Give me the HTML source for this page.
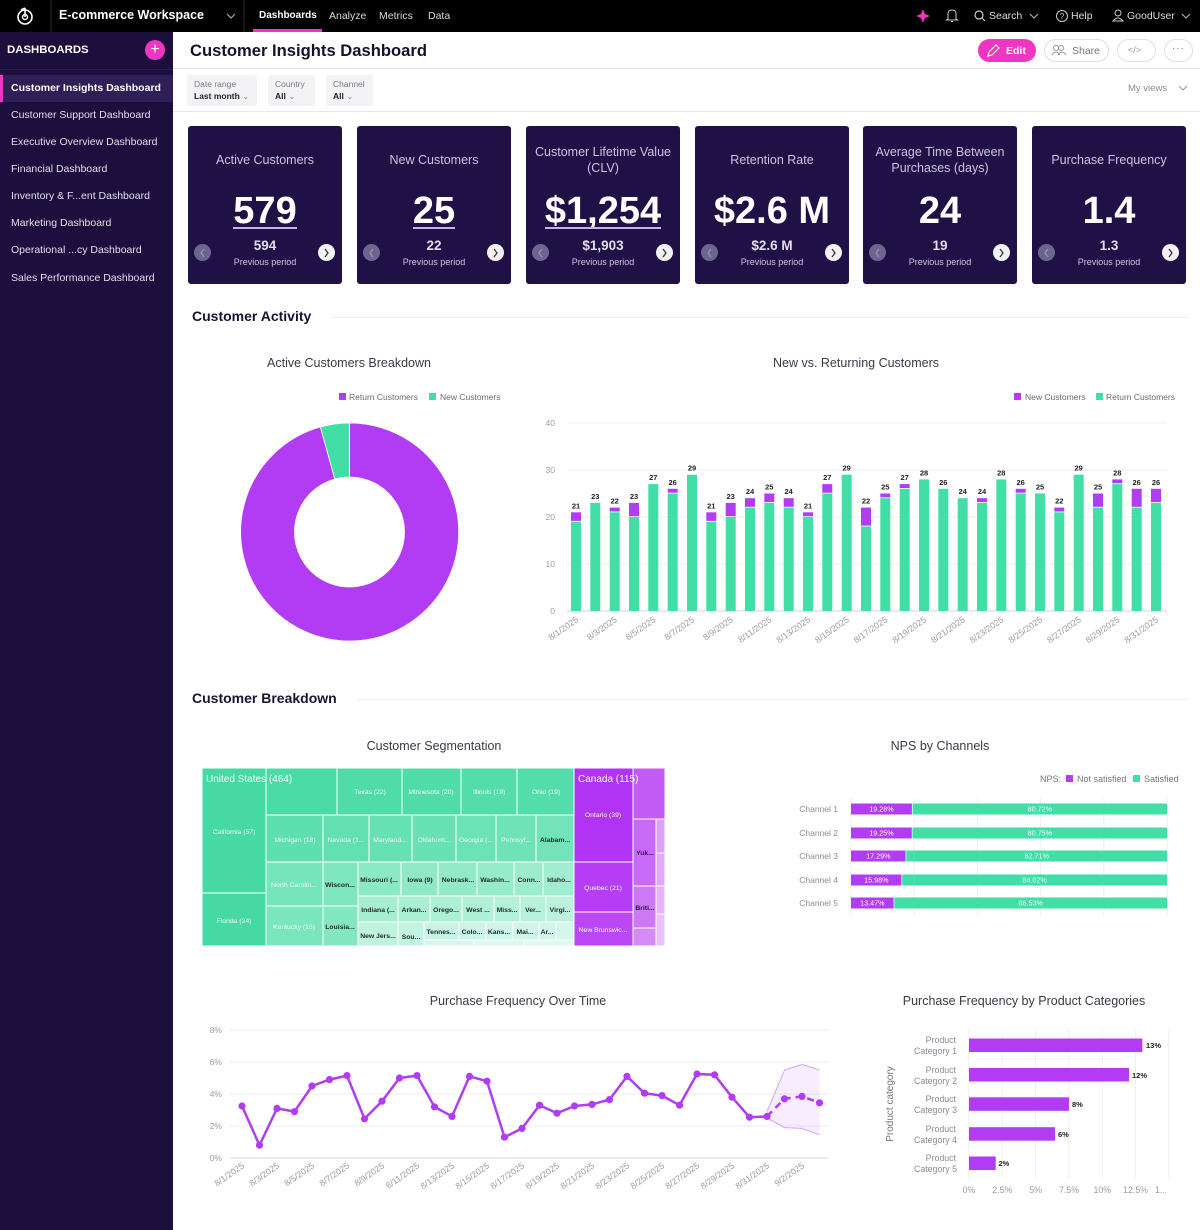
<!DOCTYPE html>
<html><head><meta charset="utf-8">
<style>
*{margin:0;padding:0;box-sizing:border-box}
body{width:1200px;height:1230px;position:relative;overflow:hidden;background:#fff;font-family:"Liberation Sans",sans-serif}
.a{position:absolute;white-space:nowrap}
#top{position:absolute;left:0;top:0;width:1200px;height:32px;background:#000}
#side{position:absolute;left:0;top:32px;width:173px;height:1198px;background:#1c0e3d}
.si{position:absolute;left:11px;font-size:10.5px;color:#e2deec;line-height:14px}
.card{position:absolute;top:126px;width:154px;height:158px;background:#1f1046;border-radius:3px}
.ct{position:absolute;left:0;width:154px;text-align:center;font-size:12.5px;color:#cbc3e2;line-height:16px}
.cv{position:absolute;left:0;width:154px;top:63px;text-align:center;font-size:38px;font-weight:bold;color:#fff;line-height:44px}
.ul{position:absolute;top:101px;height:2px;background:#c4b3ee}
.cp{position:absolute;left:0;width:154px;top:112px;text-align:center;font-size:13.5px;font-weight:bold;color:#e2ddef;line-height:16px}
.cpp{position:absolute;left:0;width:154px;top:131px;text-align:center;font-size:9px;color:#cdc7dd;line-height:11px}
.cl{position:absolute;left:6px;top:118px;width:17px;height:17px;border-radius:50%;background:#6c6590}
.cr{position:absolute;left:130px;top:118px;width:17px;height:17px;border-radius:50%;background:#f2f2f4}
.fb{position:absolute;top:75px;height:31px;background:#f3f3f6;border-radius:3px}
.fl{position:absolute;left:7px;top:4px;font-size:8.5px;color:#7a7a88}
.fv{position:absolute;left:7px;top:16px;font-size:8.5px;color:#222;font-weight:bold}
.btn{position:absolute;top:39px;height:23px;border-radius:12px;border:1px solid #dedee4;background:#fff}
</style></head><body>

<div id="top"></div>
<div id="side"></div>

<!-- top bar content -->
<svg class="a" style="left:0;top:0" width="1200" height="32">
  <circle cx="25" cy="17" r="7" fill="none" stroke="#fff" stroke-width="1.6"/>
  <path d="M25 17 L25 8 M21 10 L25 8" stroke="#fff" stroke-width="1.6" fill="none"/>
  <circle cx="25" cy="17" r="2.5" fill="none" stroke="#fff" stroke-width="1.4"/>
  <line x1="51" y1="0" x2="51" y2="32" stroke="#2a2a2a"/>
  <line x1="244" y1="0" x2="244" y2="32" stroke="#2a2a2a"/>
  <polyline points="227,14 231,18 235,14" fill="none" stroke="#aaa" stroke-width="1.2"/>
  <rect x="253" y="29" width="69" height="3" fill="#ee36c2"/>
  <path d="M923 9 L925 14 L930 16 L925 18 L923 23 L921 18 L916 16 L921 14 Z" fill="#ee36c2"/>
  <path d="M948 19 L948 14 Q948 10 952 10 Q956 10 956 14 L956 19 L957.5 20 L946.5 20 Z M951 21.5 L953 21.5" fill="none" stroke="#ccc" stroke-width="1"/>
  <circle cx="979" cy="15" r="4" fill="none" stroke="#ccc" stroke-width="1.2"/>
  <line x1="982" y1="18" x2="985" y2="21" stroke="#ccc" stroke-width="1.2"/>
  <polyline points="1030,14 1034,18 1038,14" fill="none" stroke="#aaa" stroke-width="1.2"/>
  <circle cx="1062" cy="16" r="5.5" fill="none" stroke="#ccc" stroke-width="1"/>
  <text x="1062" y="19" font-size="8" fill="#ccc" text-anchor="middle" font-family="Liberation Sans">?</text>
  <circle cx="1118" cy="13" r="3" fill="none" stroke="#ccc" stroke-width="1"/>
  <path d="M1113 21 Q1118 15 1123 21 Z" fill="none" stroke="#ccc" stroke-width="1"/>
  <polyline points="1182,14 1186,18 1190,14" fill="none" stroke="#aaa" stroke-width="1.2"/>
</svg>
<div class="a" style="left:59px;top:8px;font-size:12.5px;font-weight:bold;color:#fff">E-commerce Workspace</div>
<div class="a" style="left:259px;top:10px;font-size:10px;font-weight:bold;color:#fff">Dashboards</div>
<div class="a" style="left:329px;top:10px;font-size:10.5px;color:#d8d8d8">Analyze</div>
<div class="a" style="left:379px;top:10px;font-size:10.5px;color:#d8d8d8">Metrics</div>
<div class="a" style="left:428px;top:10px;font-size:10.5px;color:#d8d8d8">Data</div>
<div class="a" style="left:989px;top:10px;font-size:10.5px;color:#ddd">Search</div>
<div class="a" style="left:1071px;top:10px;font-size:10.5px;color:#ddd">Help</div>
<div class="a" style="left:1127px;top:10px;font-size:10.5px;color:#ddd">GoodUser</div>

<!-- sidebar -->
<div class="a" style="left:7px;top:44px;font-size:11.4px;font-weight:bold;color:#fff">DASHBOARDS</div>
<div class="a" style="left:145px;top:40px;width:20px;height:20px;border-radius:50%;background:#ee36c2;color:#fff;font-size:16px;line-height:19px;text-align:center">+</div>
<div class="a" style="left:0;top:69px;width:173px;height:1px;background:#2c1d52"></div>
<div class="a" style="left:0;top:75px;width:173px;height:27px;background:#2f1f57"></div>
<div class="a" style="left:0;top:75px;width:3px;height:27px;background:#ee36c2"></div>
<div class="si" style="top:81px;font-weight:bold;color:#fff">Customer Insights Dashboard</div>
<div class="si" style="top:108px">Customer Support Dashboard</div>
<div class="si" style="top:135px">Executive Overview Dashboard</div>
<div class="si" style="top:162px">Financial Dashboard</div>
<div class="si" style="top:189px">Inventory &amp; F...ent Dashboard</div>
<div class="si" style="top:216px">Marketing Dashboard</div>
<div class="si" style="top:243px">Operational ...cy Dashboard</div>
<div class="si" style="top:271px">Sales Performance Dashboard</div>

<!-- header -->
<div class="a" style="left:190px;top:41px;font-size:16.6px;font-weight:bold;color:#16102d">Customer Insights Dashboard</div>
<div class="a" style="left:173px;top:68px;width:1027px;height:1px;background:#e6e6ea"></div>
<div class="btn" style="left:978px;width:58px;background:#ee36c2;border-color:#ee36c2"></div>
<svg class="a" style="left:986px;top:44px" width="14" height="14"><path d="M2 12 L3 8 L10 1 L13 4 L6 11 Z" fill="none" stroke="#fff" stroke-width="1.2"/></svg>
<div class="a" style="left:1006px;top:45px;font-size:10.5px;font-weight:bold;color:#fff">Edit</div>
<div class="btn" style="left:1044px;width:65px"></div>
<svg class="a" style="left:1051px;top:44px" width="16" height="14"><circle cx="5" cy="4" r="2.5" fill="none" stroke="#999"/><circle cx="10" cy="4" r="2.5" fill="none" stroke="#999"/><path d="M1 11 Q5 5 9 11 M7 11 Q11 5 15 11" fill="none" stroke="#999"/></svg>
<div class="a" style="left:1072px;top:45px;font-size:10.5px;color:#777">Share</div>
<div class="btn" style="left:1117px;width:39px"></div>
<div class="a" style="left:1128px;top:45px;font-size:9px;color:#999">&lt;/&gt;</div>
<div class="btn" style="left:1164px;width:29px"></div>
<div class="a" style="left:1172px;top:43px;font-size:10px;color:#777;letter-spacing:1px">···</div>

<!-- filters -->
<div class="fb" style="left:187px;width:70px"><div class="fl">Date range</div><div class="fv">Last month <span style="font-weight:normal;color:#888">⌄</span></div></div>
<div class="fb" style="left:268px;width:47px"><div class="fl">Country</div><div class="fv">All <span style="font-weight:normal;color:#888">⌄</span></div></div>
<div class="fb" style="left:326px;width:47px"><div class="fl">Channel</div><div class="fv">All <span style="font-weight:normal;color:#888">⌄</span></div></div>
<div class="a" style="left:1128px;top:83px;font-size:9.5px;color:#8a8a96">My views</div>
<svg class="a" style="left:1178px;top:84px" width="10" height="8"><polyline points="1,2 5,6 9,2" fill="none" stroke="#999" stroke-width="1.1"/></svg>
<div class="a" style="left:173px;top:111px;width:1027px;height:1px;background:#e8e8ec"></div>

<!-- KPI cards -->
<div class="card" style="left:188px"><div class="ct" style="top:26px">Active Customers</div><div class="cv">579</div><div class="ul" style="left:45px;width:64px"></div><div class="cp">594</div><div class="cpp">Previous period</div><div class="cl"></div><div class="cr"></div></div>
<div class="card" style="left:357px"><div class="ct" style="top:26px">New Customers</div><div class="cv">25</div><div class="ul" style="left:56px;width:42px"></div><div class="cp">22</div><div class="cpp">Previous period</div><div class="cl"></div><div class="cr"></div></div>
<div class="card" style="left:526px"><div class="ct" style="top:18px">Customer Lifetime Value<br>(CLV)</div><div class="cv">$1,254</div><div class="ul" style="left:19px;width:116px"></div><div class="cp">$1,903</div><div class="cpp">Previous period</div><div class="cl"></div><div class="cr"></div></div>
<div class="card" style="left:695px"><div class="ct" style="top:26px">Retention Rate</div><div class="cv">$2.6 M</div><div class="cp">$2.6 M</div><div class="cpp">Previous period</div><div class="cl"></div><div class="cr"></div></div>
<div class="card" style="left:863px"><div class="ct" style="top:18px">Average Time Between<br>Purchases (days)</div><div class="cv">24</div><div class="cp">19</div><div class="cpp">Previous period</div><div class="cl"></div><div class="cr"></div></div>
<div class="card" style="left:1032px"><div class="ct" style="top:26px">Purchase Frequency</div><div class="cv">1.4</div><div class="cp">1.3</div><div class="cpp">Previous period</div><div class="cl"></div><div class="cr"></div></div>
<svg class="a" style="left:0;top:0" width="1200" height="290">
  <g fill="none" stroke-width="1.3">
    <polyline points="204,249 201,253 204,257" stroke="#9a94b4"/><polyline points="325,249 328,253 325,257" stroke="#333"/>
    <polyline points="373,249 370,253 373,257" stroke="#9a94b4"/><polyline points="494,249 497,253 494,257" stroke="#333"/>
    <polyline points="542,249 539,253 542,257" stroke="#9a94b4"/><polyline points="663,249 666,253 663,257" stroke="#333"/>
    <polyline points="711,249 708,253 711,257" stroke="#9a94b4"/><polyline points="832,249 835,253 832,257" stroke="#333"/>
    <polyline points="879,249 876,253 879,257" stroke="#9a94b4"/><polyline points="1000,249 1003,253 1000,257" stroke="#333"/>
    <polyline points="1048,249 1045,253 1048,257" stroke="#9a94b4"/><polyline points="1169,249 1172,253 1169,257" stroke="#333"/>
  </g>
</svg>

<!-- sections -->
<div class="a" style="left:192px;top:308px;font-size:14px;font-weight:bold;color:#1a1233">Customer Activity</div>
<div class="a" style="left:332px;top:317px;width:856px;height:1px;background:#ededf0"></div>
<div class="a" style="left:192px;top:690px;font-size:14px;font-weight:bold;color:#1a1233">Customer Breakdown</div>
<div class="a" style="left:357px;top:699px;width:831px;height:1px;background:#ededf0"></div>

<svg class="a" style="left:0;top:0" width="1200" height="1230" font-family="Liberation Sans">
  <!-- chart titles -->
  <g font-size="12.5" fill="#3a3a48" text-anchor="middle">
    <text x="349" y="367">Active Customers Breakdown</text>
    <text x="856" y="367">New vs. Returning Customers</text>
    <text x="434" y="750">Customer Segmentation</text>
    <text x="940" y="750">NPS by Channels</text>
    <text x="518" y="1005">Purchase Frequency Over Time</text>
    <text x="1024" y="1005">Purchase Frequency by Product Categories</text>
  </g>

  <!-- donut -->
  <rect x="339" y="393" width="7" height="7" fill="#b23cf4"/>
  <text x="349" y="400" font-size="8.5" fill="#6a6a78">Return Customers</text>
  <rect x="429" y="393" width="7" height="7" fill="#41dea6"/>
  <text x="440" y="400" font-size="8.5" fill="#6a6a78">New Customers</text>
  <path d="M349.5 423 A109 109 0 1 1 320.4 427 L334.8 479 A55 55 0 1 0 349.5 477 Z" fill="#b23cf4" stroke="#fff" stroke-width="0.8"/>
  <path d="M349.5 423 A109 109 0 0 0 320.4 427 L334.8 479 A55 55 0 0 1 349.5 477 Z" fill="#41dea6" stroke="#fff" stroke-width="0.8"/>

  <!-- bar chart -->
  <rect x="1014" y="393" width="7" height="7" fill="#b23cf4"/>
  <text x="1025" y="400" font-size="8.5" fill="#6a6a78">New Customers</text>
  <rect x="1096" y="393" width="7" height="7" fill="#41dea6"/>
  <text x="1106" y="400" font-size="8.5" fill="#6a6a78">Return Customers</text>
  <g stroke="#ededf1" stroke-width="1">
    <line x1="567" y1="423" x2="1167" y2="423"/><line x1="567" y1="470" x2="1167" y2="470"/>
    <line x1="567" y1="517" x2="1167" y2="517"/><line x1="567" y1="564" x2="1167" y2="564"/>
  </g>
  <line x1="567" y1="611" x2="1167" y2="611" stroke="#d6d6dc"/>
  <g font-size="8.5" fill="#9a9aa6" text-anchor="end">
    <text x="555" y="426">40</text><text x="555" y="473">30</text><text x="555" y="520">20</text><text x="555" y="567">10</text><text x="555" y="614">0</text>
  </g>
  <g fill="#41dea6">
    <rect x="571" y="521.7" width="10" height="89.3"/><rect x="590.3" y="502.9" width="10" height="108.1"/>
    <rect x="609.7" y="512.3" width="10" height="98.7"/><rect x="629" y="517" width="10" height="94"/>
    <rect x="648.3" y="484.1" width="10" height="126.9"/><rect x="667.7" y="493.5" width="10" height="117.5"/>
    <rect x="687" y="474.7" width="10" height="136.3"/><rect x="706.3" y="521.7" width="10" height="89.3"/>
    <rect x="725.7" y="517" width="10" height="94"/><rect x="745" y="507.6" width="10" height="103.4"/>
    <rect x="764.3" y="502.9" width="10" height="108.1"/><rect x="783.7" y="507.6" width="10" height="103.4"/>
    <rect x="803" y="517" width="10" height="94"/><rect x="822.3" y="493.5" width="10" height="117.5"/>
    <rect x="841.7" y="474.7" width="10" height="136.3"/><rect x="861" y="526.4" width="10" height="84.6"/>
    <rect x="880.3" y="498.2" width="10" height="112.8"/><rect x="899.7" y="488.8" width="10" height="122.2"/>
    <rect x="919" y="479.4" width="10" height="131.6"/><rect x="938.3" y="488.8" width="10" height="122.2"/>
    <rect x="957.7" y="498.2" width="10" height="112.8"/><rect x="977" y="502.9" width="10" height="108.1"/>
    <rect x="996.3" y="479.4" width="10" height="131.6"/><rect x="1015.7" y="493.5" width="10" height="117.5"/>
    <rect x="1035" y="493.5" width="10" height="117.5"/><rect x="1054.3" y="512.3" width="10" height="98.7"/>
    <rect x="1073.7" y="474.7" width="10" height="136.3"/><rect x="1093" y="507.6" width="10" height="103.4"/>
    <rect x="1112.3" y="484.1" width="10" height="126.9"/><rect x="1131.7" y="507.6" width="10" height="103.4"/>
    <rect x="1151" y="502.9" width="10" height="108.1"/>
  </g>
  <g fill="#b23cf4">
    <rect x="571" y="512.3" width="10" height="8.6"/>
    <rect x="609.7" y="507.6" width="10" height="3.9"/>
    <rect x="629" y="502.9" width="10" height="13.3"/>
    <rect x="667.7" y="488.8" width="10" height="3.9"/>
    <rect x="706.3" y="512.3" width="10" height="8.6"/>
    <rect x="725.7" y="502.9" width="10" height="13.3"/>
    <rect x="745" y="498.2" width="10" height="8.6"/>
    <rect x="764.3" y="493.5" width="10" height="8.6"/>
    <rect x="783.7" y="498.2" width="10" height="8.6"/>
    <rect x="803" y="512.3" width="10" height="3.9"/>
    <rect x="822.3" y="484.1" width="10" height="8.6"/>
    <rect x="861" y="507.6" width="10" height="18"/>
    <rect x="880.3" y="493.5" width="10" height="3.9"/>
    <rect x="899.7" y="484.1" width="10" height="3.9"/>
    <rect x="977" y="498.2" width="10" height="3.9"/>
    <rect x="1015.7" y="488.8" width="10" height="3.9"/>
    <rect x="1054.3" y="507.6" width="10" height="3.9"/>
    <rect x="1093" y="493.5" width="10" height="13.3"/>
    <rect x="1112.3" y="479.4" width="10" height="3.9"/>
    <rect x="1131.7" y="488.8" width="10" height="18"/>
    <rect x="1151" y="488.8" width="10" height="13.3"/>
  </g>
  <g font-size="7.5" font-weight="bold" fill="#222" text-anchor="middle">
    <text x="576" y="508.3">21</text><text x="595.3" y="498.9">23</text><text x="614.7" y="503.6">22</text>
    <text x="634" y="498.9">23</text><text x="653.3" y="480.1">27</text><text x="672.7" y="484.8">26</text>
    <text x="692" y="470.7">29</text><text x="711.3" y="508.3">21</text><text x="730.7" y="498.9">23</text>
    <text x="750" y="494.2">24</text><text x="769.3" y="489.5">25</text><text x="788.7" y="494.2">24</text>
    <text x="808" y="508.3">21</text><text x="827.3" y="480.1">27</text><text x="846.7" y="470.7">29</text>
    <text x="866" y="503.6">22</text><text x="885.3" y="489.5">25</text><text x="904.7" y="480.1">27</text>
    <text x="924" y="475.4">28</text><text x="943.3" y="484.8">26</text><text x="962.7" y="494.2">24</text>
    <text x="982" y="494.2">24</text><text x="1001.3" y="475.4">28</text><text x="1020.7" y="484.8">26</text>
    <text x="1040" y="489.5">25</text><text x="1059.3" y="503.6">22</text><text x="1078.7" y="470.7">29</text>
    <text x="1098" y="489.5">25</text><text x="1117.3" y="475.4">28</text><text x="1136.7" y="484.8">26</text>
    <text x="1156" y="484.8">26</text>
  </g>
  <g font-size="8.8" fill="#9a9aa6" text-anchor="end">
    <text transform="translate(579,621) rotate(-35)">8/1/2025</text>
    <text transform="translate(617.7,621) rotate(-35)">8/3/2025</text>
    <text transform="translate(656.3,621) rotate(-35)">8/5/2025</text>
    <text transform="translate(695,621) rotate(-35)">8/7/2025</text>
    <text transform="translate(733.7,621) rotate(-35)">8/9/2025</text>
    <text transform="translate(772.3,621) rotate(-35)">8/11/2025</text>
    <text transform="translate(811,621) rotate(-35)">8/13/2025</text>
    <text transform="translate(849.7,621) rotate(-35)">8/15/2025</text>
    <text transform="translate(888.3,621) rotate(-35)">8/17/2025</text>
    <text transform="translate(927,621) rotate(-35)">8/19/2025</text>
    <text transform="translate(965.7,621) rotate(-35)">8/21/2025</text>
    <text transform="translate(1004.3,621) rotate(-35)">8/23/2025</text>
    <text transform="translate(1043,621) rotate(-35)">8/25/2025</text>
    <text transform="translate(1081.7,621) rotate(-35)">8/27/2025</text>
    <text transform="translate(1120.3,621) rotate(-35)">8/29/2025</text>
    <text transform="translate(1159,621) rotate(-35)">8/31/2025</text>
  </g>

  <!-- treemap -->
  <g stroke="#fff" stroke-width="1">
    <rect x="202" y="768" width="64" height="125" fill="#47d9a4"/>
    <rect x="202" y="893" width="64" height="53" fill="#47d9a4"/>
    <rect x="266" y="768" width="71" height="47" fill="#4bdba7"/>
    <rect x="337" y="768" width="65" height="47" fill="#50dcaa"/>
    <rect x="402" y="768" width="59" height="47" fill="#50dcaa"/>
    <rect x="461" y="768" width="56" height="47" fill="#53ddac"/>
    <rect x="517" y="768" width="57" height="47" fill="#53ddac"/>
    <rect x="266" y="815" width="57" height="47" fill="#5ddfb1"/>
    <rect x="323" y="815" width="46" height="47" fill="#62e0b3"/>
    <rect x="369" y="815" width="43" height="47" fill="#66e1b5"/>
    <rect x="412" y="815" width="44" height="47" fill="#68e1b6"/>
    <rect x="456" y="815" width="40" height="47" fill="#6be2b8"/>
    <rect x="496" y="815" width="40" height="47" fill="#6ee3b9"/>
    <rect x="536" y="815" width="38" height="47" fill="#72e3bb"/>
    <rect x="266" y="862" width="57" height="44" fill="#76e4bd"/>
    <rect x="266" y="906" width="57" height="40" fill="#7ae5bf"/>
    <rect x="323" y="862" width="35" height="44" fill="#7fe6c2"/>
    <rect x="323" y="906" width="35" height="40" fill="#84e7c4"/>
    <rect x="358" y="862" width="43" height="34" fill="#8ae9c7"/>
    <rect x="401" y="862" width="37" height="34" fill="#8fe9c9"/>
    <rect x="438" y="862" width="39" height="34" fill="#93eacb"/>
    <rect x="477" y="862" width="37" height="34" fill="#97ebcd"/>
    <rect x="514" y="862" width="29" height="34" fill="#9cecd0"/>
    <rect x="543" y="862" width="31" height="34" fill="#a0edd2"/>
    <rect x="358" y="896" width="40" height="26" fill="#a5eed4"/>
    <rect x="398" y="896" width="32" height="26" fill="#a9efd6"/>
    <rect x="430" y="896" width="32" height="26" fill="#adf0d8"/>
    <rect x="462" y="896" width="32" height="26" fill="#b0f0d9"/>
    <rect x="494" y="896" width="26" height="26" fill="#b4f1db"/>
    <rect x="520" y="896" width="26" height="26" fill="#b7f2dd"/>
    <rect x="546" y="896" width="28" height="26" fill="#baf2de"/>
    <rect x="358" y="922" width="40" height="24" fill="#bef3e0"/>
    <rect x="398" y="922" width="26" height="24" fill="#c2f4e2"/>
    <rect x="424" y="922" width="35" height="18" fill="#c6f5e4"/>
    <rect x="459" y="922" width="27" height="18" fill="#c9f5e5"/>
    <rect x="486" y="922" width="27" height="18" fill="#ccf6e7"/>
    <rect x="513" y="922" width="26" height="18" fill="#cff6e8"/>
    <rect x="539" y="922" width="17" height="18" fill="#d2f7ea"/>
    <rect x="556" y="922" width="18" height="18" fill="#d6f8ec"/>
    <rect x="424" y="940" width="50" height="6" fill="#d9f8ed"/>
    <rect x="474" y="940" width="50" height="6" fill="#dcf9ef"/>
    <rect x="524" y="940" width="50" height="6" fill="#e0faf1"/>
    <rect x="574" y="768" width="59" height="94" fill="#b133f5"/>
    <rect x="574" y="862" width="59" height="50" fill="#b63cf5"/>
    <rect x="574" y="912" width="59" height="34" fill="#bb47f5"/>
    <rect x="633" y="768" width="32" height="51" fill="#c35bf6"/>
    <rect x="633" y="819" width="23" height="67" fill="#c86af7"/>
    <rect x="633" y="886" width="23" height="42" fill="#cd78f7"/>
    <rect x="633" y="928" width="23" height="18" fill="#d48bf8"/>
    <rect x="656" y="819" width="9" height="34" fill="#dca2f9"/>
    <rect x="656" y="853" width="9" height="33" fill="#dfaaf9"/>
    <rect x="656" y="886" width="9" height="28" fill="#e3b5fa"/>
    <rect x="656" y="914" width="9" height="32" fill="#e8c3fb"/>
  </g>
  <text x="206" y="782" font-size="10" fill="#fff">United States (464)</text>
  <text x="578" y="782" font-size="10" fill="#fff">Canada (115)</text>
  <g font-size="6.8" text-anchor="middle" fill="#f2fffa">
    <text x="234" y="834">California (57)</text>
    <text x="234" y="923">Florida (24)</text>
    <text x="370" y="794">Texas (22)</text>
    <text x="431" y="794">Minnesota (20)</text>
    <text x="489" y="794">Illinois (19)</text>
    <text x="546" y="794">Ohio (19)</text>
    <text x="295" y="842">Michigan (18)</text>
    <text x="346" y="842">Nevada (1...</text>
    <text x="390" y="842">Maryland...</text>
    <text x="434" y="842">Oklahom...</text>
    <text x="476" y="842">Georgia (...</text>
    <text x="516" y="842">Pennsyl...</text>
    <text x="294" y="887">North Carolin...</text>
    <text x="294" y="929">Kentucky (16)</text>
    <text x="603" y="817">Ontario (39)</text>
    <text x="603" y="890">Quebec (21)</text>
    <text x="603" y="932">New Brunswic...</text>
  </g>
  <g font-size="6.8" text-anchor="middle" fill="#1c2a26" font-weight="bold">
    <text x="555" y="842">Alabam...</text>
    <text x="340" y="887">Wiscon...</text>
    <text x="340" y="929">Louisia...</text>
    <text x="379" y="882">Missouri (...</text>
    <text x="420" y="882">Iowa (9)</text>
    <text x="458" y="882">Nebrask...</text>
    <text x="495" y="882">Washin...</text>
    <text x="529" y="882">Conn...</text>
    <text x="559" y="882">Idaho...</text>
    <text x="378" y="912">Indiana (...</text>
    <text x="414" y="912">Arkan...</text>
    <text x="446" y="912">Orego...</text>
    <text x="478" y="912">West ...</text>
    <text x="507" y="912">Miss...</text>
    <text x="533" y="912">Ver...</text>
    <text x="560" y="912">Virgi...</text>
    <text x="378" y="938">New Jers...</text>
    <text x="411" y="939">Sou...</text>
    <text x="441" y="934">Tennes...</text>
    <text x="472" y="934">Colo...</text>
    <text x="499" y="934">Kans...</text>
    <text x="525" y="934">Mai...</text>
    <text x="547" y="934">Ar...</text>
    <text x="645" y="855" fill="#2a1040">Yuk...</text>
    <text x="645" y="910" fill="#2a1040">Briti...</text>
  </g>

  <!-- NPS -->
  <text x="1040" y="782" font-size="9" fill="#777">NPS:</text>
  <rect x="1066" y="775" width="7" height="7" fill="#b23cf4"/>
  <text x="1077" y="782" font-size="9" fill="#777">Not satisfied</text>
  <rect x="1133" y="775" width="7" height="7" fill="#41dea6"/>
  <text x="1144" y="782" font-size="9" fill="#777">Satisfied</text>
  <g stroke="#eeeef1">
    <line x1="851" y1="798" x2="851" y2="916"/><line x1="914.2" y1="798" x2="914.2" y2="916"/>
    <line x1="977.4" y1="798" x2="977.4" y2="916"/><line x1="1040.6" y1="798" x2="1040.6" y2="916"/>
    <line x1="1103.8" y1="798" x2="1103.8" y2="916"/><line x1="1167" y1="798" x2="1167" y2="916"/>
  </g>
  <g font-size="8.5" fill="#8a8a96" text-anchor="end">
    <text x="838" y="812">Channel 1</text><text x="838" y="836">Channel 2</text><text x="838" y="859">Channel 3</text>
    <text x="838" y="883">Channel 4</text><text x="838" y="906">Channel 5</text>
  </g>
  <g fill="#b23cf4">
    <rect x="851" y="803.5" width="60.9" height="11"/><rect x="851" y="827.5" width="60.8" height="11"/>
    <rect x="851" y="850.5" width="54.6" height="11"/><rect x="851" y="874.5" width="50.5" height="11"/>
    <rect x="851" y="897.5" width="42.6" height="11"/>
  </g>
  <g fill="#41dea6">
    <rect x="912.6" y="803.5" width="254.4" height="11"/><rect x="912.5" y="827.5" width="254.5" height="11"/>
    <rect x="906.3" y="850.5" width="260.7" height="11"/><rect x="902.2" y="874.5" width="264.8" height="11"/>
    <rect x="894.3" y="897.5" width="272.7" height="11"/>
  </g>
  <g font-size="7.2" fill="#fff" text-anchor="middle">
    <text x="881.5" y="811.5">19.28%</text><text x="881.4" y="835.5">19.25%</text><text x="878.3" y="858.5">17.29%</text>
    <text x="876.3" y="882.5">15.98%</text><text x="872.3" y="905.5">13.47%</text>
    <text x="1039.8" y="811.5" fill="#f0fff8">80.72%</text><text x="1039.8" y="835.5" fill="#f0fff8">80.75%</text>
    <text x="1036.7" y="858.5" fill="#f0fff8">82.71%</text><text x="1034.6" y="882.5" fill="#f0fff8">84.02%</text>
    <text x="1030.7" y="905.5" fill="#f0fff8">86.53%</text>
  </g>

  <!-- line chart -->
  <g stroke="#ededf1">
    <line x1="230" y1="1030" x2="828" y2="1030"/><line x1="230" y1="1062" x2="828" y2="1062"/>
    <line x1="230" y1="1094" x2="828" y2="1094"/><line x1="230" y1="1126" x2="828" y2="1126"/>
  </g>
  <line x1="230" y1="1158" x2="828" y2="1158" stroke="#d6d6dc"/>
  <g font-size="8.5" fill="#9a9aa6" text-anchor="end">
    <text x="222" y="1033">8%</text><text x="222" y="1065">6%</text><text x="222" y="1097">4%</text>
    <text x="222" y="1129">2%</text><text x="222" y="1161">0%</text>
  </g>
  <polygon points="767,1111.6 784.5,1070 802,1064.4 819.5,1070 819.5,1134.8 802,1128.4 784.5,1127.6 767,1118" fill="#b23cf4" fill-opacity="0.09"/>
  <polyline points="767,1111.6 784.5,1070 802,1064.4 819.5,1070" fill="none" stroke="#d7a4f8" stroke-width="1"/>
  <polyline points="767,1118 784.5,1127.6 802,1128.4 819.5,1134.8" fill="none" stroke="#d7a4f8" stroke-width="1"/>
  <polyline points="242,1106 259.5,1145.2 277,1108.4 294.5,1111.6 312,1086 329.5,1079.6 347,1075.6 364.5,1118.8 382,1101.2 399.5,1078 417,1075.6 434.5,1106.8 452,1116.4 469.5,1076.4 487,1081.2 504.5,1137.2 522,1128.4 539.5,1105.2 557,1113.2 574.5,1106 592,1104.4 609.5,1099.6 627,1076.4 644.5,1093.2 662,1095.6 679.5,1105.2 697,1074 714.5,1074.8 732,1097.2 749.5,1117.2 767,1116.4" fill="none" stroke="#b03ef0" stroke-width="2.5" stroke-linejoin="round"/>
  <polyline points="767,1116.4 784.5,1098.8 802,1096.4 819.5,1102.8" fill="none" stroke="#b03ef0" stroke-width="2.5" stroke-dasharray="7,5"/>
  <g fill="#b23cf4">
    <circle cx="242" cy="1106" r="3.6"/><circle cx="259.5" cy="1145.2" r="3.6"/><circle cx="277" cy="1108.4" r="3.6"/>
    <circle cx="294.5" cy="1111.6" r="3.6"/><circle cx="312" cy="1086" r="3.6"/><circle cx="329.5" cy="1079.6" r="3.6"/>
    <circle cx="347" cy="1075.6" r="3.6"/><circle cx="364.5" cy="1118.8" r="3.6"/><circle cx="382" cy="1101.2" r="3.6"/>
    <circle cx="399.5" cy="1078" r="3.6"/><circle cx="417" cy="1075.6" r="3.6"/><circle cx="434.5" cy="1106.8" r="3.6"/>
    <circle cx="452" cy="1116.4" r="3.6"/><circle cx="469.5" cy="1076.4" r="3.6"/><circle cx="487" cy="1081.2" r="3.6"/>
    <circle cx="504.5" cy="1137.2" r="3.6"/><circle cx="522" cy="1128.4" r="3.6"/><circle cx="539.5" cy="1105.2" r="3.6"/>
    <circle cx="557" cy="1113.2" r="3.6"/><circle cx="574.5" cy="1106" r="3.6"/><circle cx="592" cy="1104.4" r="3.6"/>
    <circle cx="609.5" cy="1099.6" r="3.6"/><circle cx="627" cy="1076.4" r="3.6"/><circle cx="644.5" cy="1093.2" r="3.6"/>
    <circle cx="662" cy="1095.6" r="3.6"/><circle cx="679.5" cy="1105.2" r="3.6"/><circle cx="697" cy="1074" r="3.6"/>
    <circle cx="714.5" cy="1074.8" r="3.6"/><circle cx="732" cy="1097.2" r="3.6"/><circle cx="749.5" cy="1117.2" r="3.6"/>
    <circle cx="767" cy="1116.4" r="3.6"/><circle cx="784.5" cy="1098.8" r="3.6"/><circle cx="802" cy="1096.4" r="3.6"/>
    <circle cx="819.5" cy="1102.8" r="3.6"/>
  </g>
  <g font-size="8.8" fill="#9a9aa6" text-anchor="end">
    <text transform="translate(245,1167) rotate(-35)">8/1/2025</text>
    <text transform="translate(280,1167) rotate(-35)">8/3/2025</text>
    <text transform="translate(315,1167) rotate(-35)">8/5/2025</text>
    <text transform="translate(350,1167) rotate(-35)">8/7/2025</text>
    <text transform="translate(385,1167) rotate(-35)">8/9/2025</text>
    <text transform="translate(420,1167) rotate(-35)">8/11/2025</text>
    <text transform="translate(455,1167) rotate(-35)">8/13/2025</text>
    <text transform="translate(490,1167) rotate(-35)">8/15/2025</text>
    <text transform="translate(525,1167) rotate(-35)">8/17/2025</text>
    <text transform="translate(560,1167) rotate(-35)">8/19/2025</text>
    <text transform="translate(595,1167) rotate(-35)">8/21/2025</text>
    <text transform="translate(630,1167) rotate(-35)">8/23/2025</text>
    <text transform="translate(665,1167) rotate(-35)">8/25/2025</text>
    <text transform="translate(700,1167) rotate(-35)">8/27/2025</text>
    <text transform="translate(735,1167) rotate(-35)">8/29/2025</text>
    <text transform="translate(770,1167) rotate(-35)">8/31/2025</text>
    <text transform="translate(805,1167) rotate(-35)">9/2/2025</text>
  </g>

  <!-- product categories -->
  <g stroke="#eeeef1">
    <line x1="969" y1="1030" x2="969" y2="1178"/><line x1="1002.3" y1="1030" x2="1002.3" y2="1178"/>
    <line x1="1035.6" y1="1030" x2="1035.6" y2="1178"/><line x1="1069" y1="1030" x2="1069" y2="1178"/>
    <line x1="1102.3" y1="1030" x2="1102.3" y2="1178"/><line x1="1135.6" y1="1030" x2="1135.6" y2="1178"/>
    <line x1="1169" y1="1030" x2="1169" y2="1178"/>
  </g>
  <text transform="translate(893,1104) rotate(-90)" font-size="10" fill="#777" text-anchor="middle">Product category</text>
  <g font-size="8.8" fill="#8a8a96" text-anchor="end">
    <text x="956" y="1043">Product</text><text x="957" y="1054">Category 1</text>
    <text x="956" y="1073">Product</text><text x="957" y="1084">Category 2</text>
    <text x="956" y="1102">Product</text><text x="957" y="1113">Category 3</text>
    <text x="956" y="1132">Product</text><text x="957" y="1143">Category 4</text>
    <text x="956" y="1161">Product</text><text x="957" y="1172">Category 5</text>
  </g>
  <g fill="#b23cf4">
    <rect x="969" y="1038.5" width="173.3" height="13.5"/>
    <rect x="969" y="1068" width="160" height="13.5"/>
    <rect x="969" y="1097.3" width="100" height="13.5"/>
    <rect x="969" y="1127.2" width="86" height="13.5"/>
    <rect x="969" y="1156.5" width="26.7" height="13.5"/>
  </g>
  <g font-size="7.5" font-weight="bold" fill="#222">
    <text x="1146" y="1048">13%</text><text x="1132" y="1078">12%</text><text x="1072" y="1107">8%</text>
    <text x="1058" y="1137">6%</text><text x="998.5" y="1166">2%</text>
  </g>
  <g font-size="8.8" fill="#9a9aa6" text-anchor="middle">
    <text x="969" y="1193">0%</text><text x="1002.3" y="1193">2.5%</text><text x="1035.6" y="1193">5%</text>
    <text x="1069" y="1193">7.5%</text><text x="1102.3" y="1193">10%</text><text x="1135.6" y="1193">12.5%</text>
    <text x="1161" y="1193">1...</text>
  </g>
</svg>
</body></html>
